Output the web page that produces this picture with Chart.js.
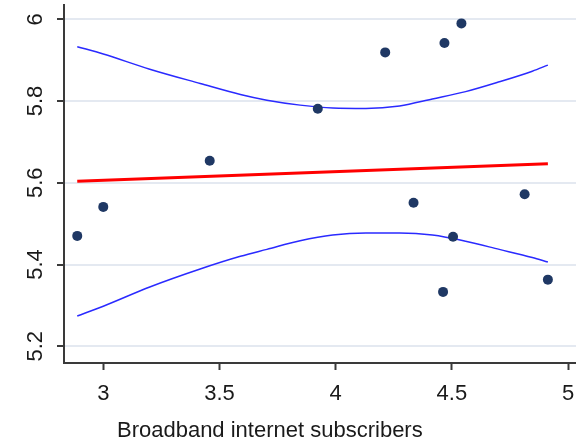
<!DOCTYPE html>
<html>
<head>
<meta charset="utf-8">
<script src="https://cdn.jsdelivr.net/npm/chart.js@4/dist/chart.umd.min.js"></script>
<style>
  html, body { margin: 0; padding: 0; background: #ffffff; }
  #wrap { width: 576px; height: 445px; }
</style>
</head>
<body>
<div id="wrap"><canvas id="c" width="576" height="445"></canvas></div>
<script>
// Observations: broadband subscribers (x) vs outcome (y)
const obsX = [2.888, 3.000, 3.458, 3.923, 4.213, 4.468, 4.541, 4.335, 4.813, 4.505, 4.462, 4.913];
const obsY = [5.470, 5.541, 5.654, 5.781, 5.919, 5.942, 5.990, 5.551, 5.572, 5.468, 5.333, 5.363];

// Fitted line end points
const fitX = [2.888, 4.913];
const fitY = [5.604, 5.6465];

// Confidence band, read at these x positions
const bandX     = [2.888, 3.000, 3.200, 3.417, 3.590, 3.704, 3.847, 3.987, 4.130, 4.275, 4.416, 4.559, 4.704, 4.846, 4.913];
const bandUpper = [5.933, 5.915, 5.878, 5.843, 5.816, 5.802, 5.790, 5.783, 5.782, 5.788, 5.805, 5.823, 5.847, 5.873, 5.888];
const bandLower = [5.274, 5.298, 5.345, 5.389, 5.420, 5.437, 5.458, 5.472, 5.477, 5.477, 5.472, 5.457, 5.437, 5.417, 5.406];

// Axis ticks
const xTicks = [3, 3.5, 4, 4.5, 5];
const xTickLabels = ['3', '3.5', '4', '4.5', '5'];
const yTicks = [5.2, 5.4, 5.6, 5.8, 6.0];
const yTickLabels = ['5.2', '5.4', '5.6', '5.8', '6'];

const xTitle = 'Broadband internet subscribers';

const pts = (xs, ys) => xs.map((x, i) => ({ x: x, y: ys[i] }));

const FONT = 'Liberation Sans, Arial, sans-serif';
const INK = '#1a1a1a';
const AXIS = '#3a3a3a';
const GRID = '#e4e9f1';

// Draws the x-axis title below the tick labels
const xTitlePlugin = {
  id: 'xTitle',
  afterDraw(chart) {
    const ctx = chart.ctx;
    const a = chart.chartArea;
    ctx.save();
    ctx.font = '22px ' + FONT;
    ctx.fillStyle = INK;
    ctx.textAlign = 'center';
    ctx.textBaseline = 'alphabetic';
    ctx.fillText(xTitle, a.left + (a.right - a.left) * 0.402, 437);
    ctx.restore();
  }
};

new Chart(document.getElementById('c'), {
  type: 'scatter',
  data: {
    datasets: [
      {
        label: 'obs',
        data: pts(obsX, obsY),
        pointStyle: 'circle',
        pointRadius: 5,
        pointBackgroundColor: '#1f3864',
        pointBorderColor: '#1f3864',
        pointBorderWidth: 0,
        showLine: false,
        order: 0
      },
      {
        type: 'line',
        label: 'fit',
        data: pts(fitX, fitY),
        borderColor: '#ff0000',
        borderWidth: 3,
        pointRadius: 0,
        fill: false,
        order: 1
      },
      {
        type: 'line',
        label: 'upper',
        data: pts(bandX, bandUpper),
        borderColor: '#2a2aff',
        borderWidth: 1.5,
        pointRadius: 0,
        cubicInterpolationMode: 'monotone',
        fill: false,
        order: 2
      },
      {
        type: 'line',
        label: 'lower',
        data: pts(bandX, bandLower),
        borderColor: '#2a2aff',
        borderWidth: 1.5,
        pointRadius: 0,
        cubicInterpolationMode: 'monotone',
        fill: false,
        order: 2
      }
    ]
  },
  options: {
    responsive: false,
    animation: false,
    devicePixelRatio: 1,
    layout: { autoPadding: false, padding: { top: 5, right: 0, bottom: 0, left: 0 } },
    plugins: {
      legend: { display: false },
      tooltip: { enabled: false }
    },
    scales: {
      x: {
        type: 'linear',
        position: 'bottom',
        min: 2.831,
        max: 5.034,
        afterBuildTicks: (s) => { s.ticks = xTicks.map(v => ({ value: v })); },
        afterFit: (s) => { s.height = 82; s.paddingLeft = 0; s.paddingRight = 0; },
        ticks: {
          font: { family: FONT, size: 22 },
          color: INK,
          padding: 11,
          maxRotation: 0,
          minRotation: 0,
          callback: (v, i) => xTickLabels[i]
        },
        grid: {
          drawOnChartArea: false,
          drawTicks: true,
          tickLength: 7,
          tickWidth: 2,
          tickColor: AXIS
        },
        border: { display: true, color: AXIS, width: 2 }
      },
      y: {
        type: 'linear',
        position: 'left',
        min: 5.159,
        max: 6.035,
        afterBuildTicks: (s) => { s.ticks = yTicks.map(v => ({ value: v })); },
        afterFit: (s) => { s.width = 64; s.paddingTop = 0; s.paddingBottom = 0; },
        ticks: {
          font: { family: FONT, size: 22 },
          color: INK,
          padding: 6,
          minRotation: 90,
          maxRotation: 90,
          crossAlign: 'center',
          callback: (v, i) => yTickLabels[i]
        },
        grid: {
          color: GRID,
          lineWidth: 2,
          drawTicks: true,
          tickLength: 7,
          tickWidth: 2,
          tickColor: AXIS
        },
        border: { display: true, color: AXIS, width: 2 }
      }
    }
  },
  plugins: [xTitlePlugin]
});
</script>
</body>
</html>
